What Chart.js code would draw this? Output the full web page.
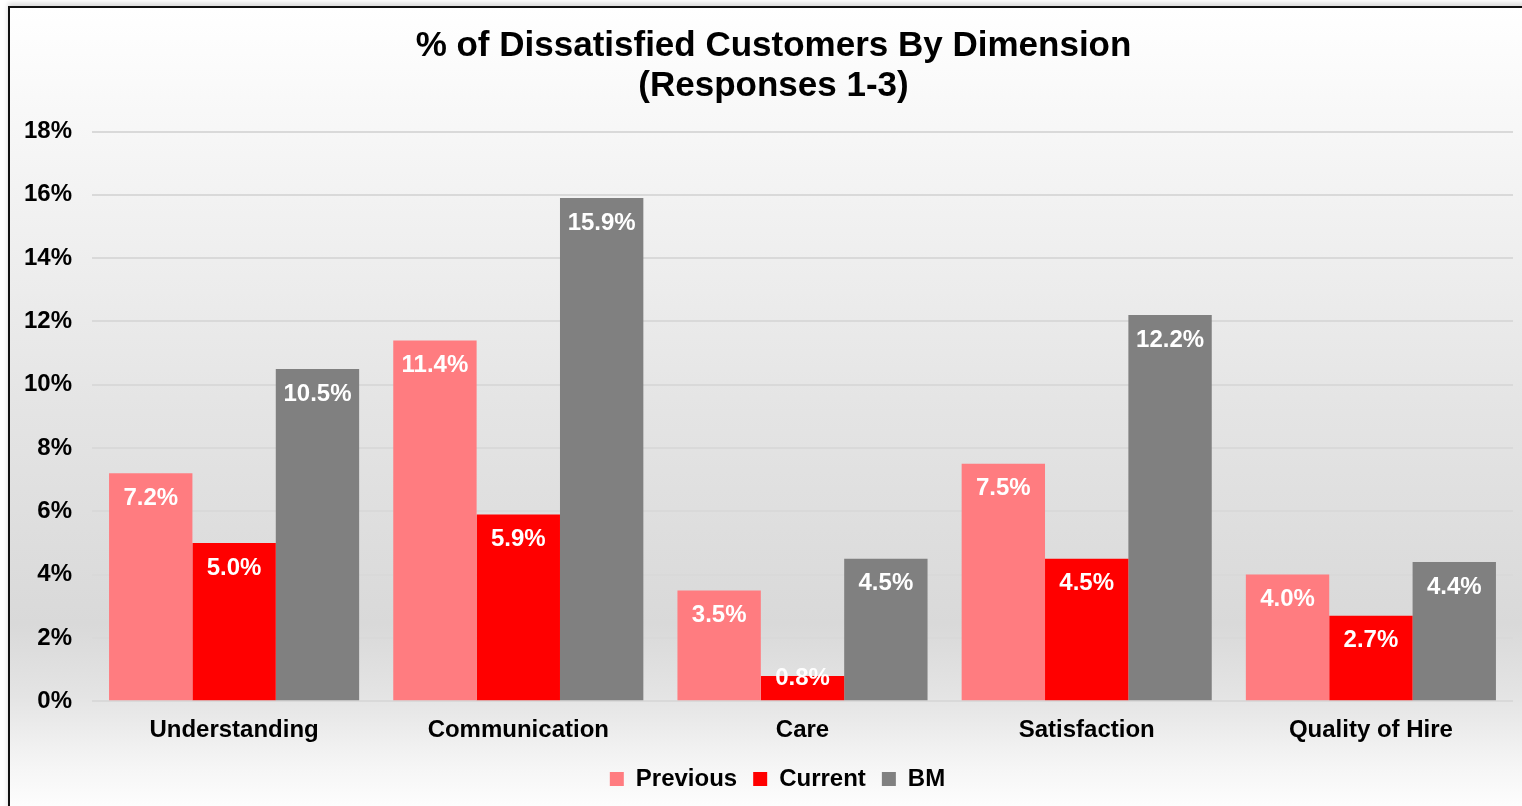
<!DOCTYPE html>
<html>
<head>
<meta charset="utf-8">
<script src="https://cdn.jsdelivr.net/npm/chart.js@4.4.1/dist/chart.umd.min.js"></script>
<style>
  html, body { margin: 0; padding: 0; overflow: hidden; background: #fff; }
  #frame {
    position: absolute;
    left: 8px;
    top: 6px;
    width: 1530px;
    height: 810px;
    border: 2px solid #111;
    box-shadow: 0 -3px 5px rgba(0,0,0,0.15);
    background: linear-gradient(to bottom, #ffffff 0%, #f4f4f4 20%, #e4e4e4 50%, #d9d9d9 76%, #e4e4e4 85%, #f6f6f6 94%, #ffffff 100%);
  }
  #chart { display: block; }
</style>
</head>
<body>
<div id="frame">
  <canvas id="chart" width="1530" height="810"></canvas>
</div>
<script>
const categories = ['Understanding', 'Communication', 'Care', 'Satisfaction', 'Quality of Hire'];
const previous = [7.2, 11.4, 3.5, 7.5, 4.0];
const current = [5.0, 5.9, 0.8, 4.5, 2.7];
const bm = [10.5, 15.9, 4.5, 12.2, 4.4];
const yTicks = [0, 2, 4, 6, 8, 10, 12, 14, 16, 18];

const boldFont = "'Liberation Sans', Arial, sans-serif";

// white value labels just inside the top of each bar
const barLabels = {
    id: 'barLabels',
    afterDatasetsDraw(chart) {
        const ctx = chart.ctx;
        const base = chart.scales.y.getPixelForValue(0);
        ctx.save();
        ctx.font = 'bold 24px ' + boldFont;
        ctx.fillStyle = '#ffffff';
        ctx.textAlign = 'center';
        ctx.textBaseline = 'middle';
        chart.data.datasets.forEach((ds, i) => {
            chart.getDatasetMeta(i).data.forEach((bar, j) => {
                let y = bar.y + 25;
                if (y > base - 23) y = base - 23;
                ctx.fillText(ds.data[j].toFixed(1) + '%', bar.x, y);
            });
        });
        ctx.restore();
    }
};

// title and legend sit centred on the whole frame, not the plot column
const centreBlocks = {
    id: 'centreBlocks',
    afterLayout(chart) {
        if (chart.titleBlock) {
            chart.titleBlock.left += 12;
            chart.titleBlock.right += 12;
        }
        if (chart.legend) {
            chart.legend.left += 16;
            chart.legend.right += 16;
        }
    }
};

const ctx = document.getElementById('chart').getContext('2d');
new Chart(ctx, {
    type: 'bar',
    data: {
        labels: categories,
        datasets: [
            { label: 'Previous', data: previous, backgroundColor: '#ff7c80' },
            { label: 'Current', data: current, backgroundColor: '#ff0000' },
            { label: 'BM', data: bm, backgroundColor: '#808080' }
        ]
    },
    options: {
        responsive: false,
        animation: false,
        layout: { padding: { left: 0, right: 27, top: 10, bottom: 17 } },
        datasets: {
            bar: { categoryPercentage: 0.88, barPercentage: 1.0 }
        },
        scales: {
            x: {
                grid: { display: false },
                border: { display: false },
                ticks: {
                    color: '#000',
                    font: { family: boldFont, size: 24, weight: 'bold' },
                    padding: 6.5
                }
            },
            y: {
                min: 0,
                max: 18,
                afterBuildTicks(axis) {
                    axis.ticks = yTicks.map(v => ({ value: v }));
                },
                afterFit(axis) {
                    axis.width = 82;
                },
                grid: { color: '#d9d9d9', lineWidth: 2, drawTicks: false },
                border: { display: false },
                ticks: {
                    color: '#000',
                    font: { family: boldFont, size: 24, weight: 'bold' },
                    padding: 20,
                    callback: v => v + '%'
                }
            }
        },
        plugins: {
            title: {
                display: true,
                text: ['% of Dissatisfied Customers By Dimension', '(Responses 1-3)'],
                color: '#000',
                font: { family: boldFont, size: 35, weight: 'bold', lineHeight: 1.15 },
                padding: { top: 8, bottom: 25 }
            },
            legend: {
                position: 'bottom',
                labels: {
                    color: '#000',
                    boxWidth: 14,
                    boxHeight: 14,
                    padding: 16,
                    font: { family: boldFont, size: 24, weight: 'bold' }
                }
            },
            tooltip: { enabled: false }
        }
    },
    plugins: [barLabels, centreBlocks]
});
</script>
</body>
</html>
